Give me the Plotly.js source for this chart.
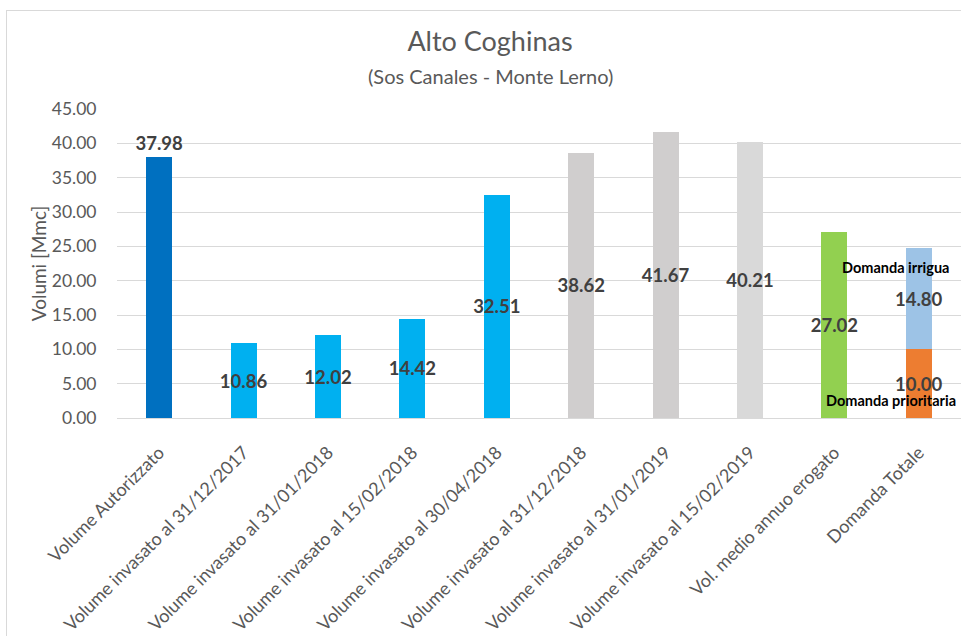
<!DOCTYPE html>
<html>
<head>
<meta charset="utf-8">
<script src="https://cdn.plot.ly/plotly-3.0.1.min.js"></script>
<style>
  html, body { margin: 0; padding: 0; background: #ffffff; overflow: hidden; }
  #chart { width: 961px; height: 636px; }
  #frame {
    position: absolute; left: 6px; top: 10px; width: 2000px; height: 2000px;
    border-left: 1px solid #D9D9D9; border-top: 1px solid #D9D9D9;
    pointer-events: none;
  }
</style>
</head>
<body>
<div id="chart"></div>
<div id="frame"></div>
<script>
// Categories along the x axis
const categories = [
  "Volume Autorizzato",
  "Volume invasato al 31/12/2017",
  "Volume invasato al 31/01/2018",
  "Volume invasato al 15/02/2018",
  "Volume invasato al 30/04/2018",
  "Volume invasato al 31/12/2018",
  "Volume invasato al 31/01/2019",
  "Volume invasato al 15/02/2019",
  "Vol. medio annuo erogato",
  "Domanda Totale"
];

// Volumes [Mmc] for the single bars (all but the last category)
const volumes = [37.98, 10.86, 12.02, 14.42, 32.51, 38.62, 41.67, 40.21, 27.02];
const volumeColors = ["#0070C0", "#00B0F0", "#00B0F0", "#00B0F0", "#00B0F0",
                      "#D0CECE", "#D0CECE", "#D9D9D9", "#92D050"];

// Stacked demand for "Domanda Totale"
const demandCategory = "Domanda Totale";
const domandaPrioritaria = 10.00;
const domandaIrrigua = 14.80;

const labelFont = { family: "Lato, sans-serif", size: 18.5, color: "#404040", weight: "bold" };
const noteFont = { family: "Lato, sans-serif", size: 14.5, color: "#000000", weight: "bold" };
const barWidth = 0.31;

const singleCats = categories.slice(0, volumes.length);

function demandBar(value, color) {
  return {
    type: "bar",
    x: [demandCategory],
    y: [value],
    width: barWidth,
    marker: { color: color },
    text: [value.toFixed(2)],
    textposition: "inside",
    insidetextanchor: "middle",
    textangle: 0,
    constraintext: "none",
    textfont: labelFont,
    hoverinfo: "skip",
    showlegend: false
  };
}

const traces = [
  {
    type: "bar",
    x: singleCats,
    y: volumes,
    width: barWidth,
    marker: { color: volumeColors },
    text: volumes.map(v => v.toFixed(2)),
    // the authorised volume carries its label above the bar, the rest inside
    textposition: volumes.map((v, i) => i === 0 ? "outside" : "inside"),
    insidetextanchor: "middle",
    textangle: 0,
    constraintext: "none",
    cliponaxis: false,
    textfont: labelFont,
    hoverinfo: "skip",
    showlegend: false
  },
  demandBar(domandaPrioritaria, "#ED7D31"),
  demandBar(domandaIrrigua, "#9DC3E6")
];

const axisFont = { family: "Lato, sans-serif", color: "#595959" };

const layout = {
  width: 961,
  height: 636,
  margin: { l: 117, r: 0, t: 109, b: 218 },
  paper_bgcolor: "#ffffff",
  plot_bgcolor: "#ffffff",
  barmode: "stack",
  showlegend: false,
  title: {
    text: "Alto Coghinas",
    font: { family: "Lato, sans-serif", size: 27, color: "#595959" },
    xref: "container", x: 490 / 961, xanchor: "center",
    yref: "container", y: 1 - 42 / 636, yanchor: "middle"
  },
  xaxis: {
    type: "category",
    categoryorder: "array",
    categoryarray: categories,
    tickangle: -45,
    tickfont: Object.assign({ size: 18 }, axisFont),
    showgrid: false,
    showline: false,
    zeroline: false,
    ticks: "outside",
    ticklen: 16,
    tickcolor: "rgba(0,0,0,0)"
  },
  yaxis: {
    range: [0, 45],
    dtick: 5,
    tickformat: ".2f",
    tickfont: Object.assign({ size: 17.5 }, axisFont),
    showgrid: true,
    gridcolor: "#D9D9D9",
    gridwidth: 1,
    zeroline: true,
    zerolinecolor: "#D9D9D9",
    zerolinewidth: 1,
    showline: false,
    ticks: "outside",
    ticklen: 16,
    tickcolor: "rgba(0,0,0,0)",
    title: {
      text: "Volumi [Mmc]",
      font: Object.assign({ size: 19 }, axisFont),
      standoff: 0
    }
  },
  annotations: [
    {
      text: "(Sos Canales - Monte Lerno)",
      xref: "paper", yref: "paper",
      x: (490 - 117) / 844, y: 1 + (109 - 76) / 309,
      xanchor: "center", yanchor: "middle",
      showarrow: false,
      font: { family: "Lato, sans-serif", size: 20, color: "#595959" }
    },
    {
      text: "Domanda irrigua",
      xref: "x", yref: "y",
      x: demandCategory, y: domandaPrioritaria + domandaIrrigua,
      xshift: -23, yshift: -20,
      xanchor: "center", yanchor: "middle",
      showarrow: false,
      font: noteFont
    },
    {
      text: "Domanda prioritaria",
      xref: "x", yref: "y",
      x: demandCategory, y: 0,
      xshift: -28, yshift: 18,
      xanchor: "center", yanchor: "middle",
      showarrow: false,
      font: noteFont
    }
  ]
};

Plotly.newPlot("chart", traces, layout, { staticPlot: true, displayModeBar: false });
</script>
</body>
</html>
